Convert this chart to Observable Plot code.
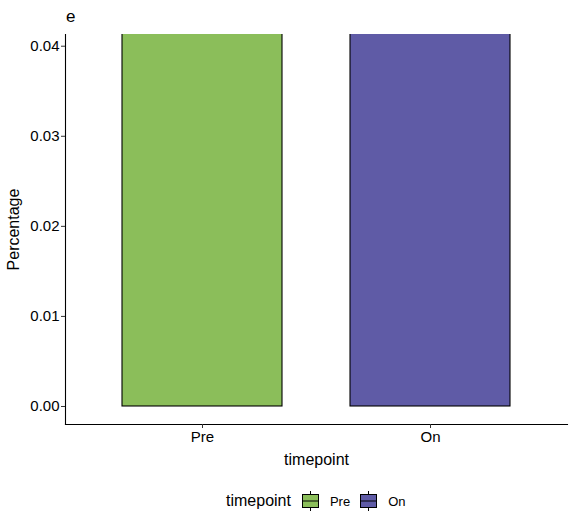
<!DOCTYPE html>
<html>
<head>
<meta charset="utf-8">
<script src="https://cdn.jsdelivr.net/npm/d3@7"></script>
<script src="https://cdn.jsdelivr.net/npm/@observablehq/plot@0.6"></script>
<style>
  body { margin: 0; background: #fff; font-family: "Liberation Sans", Arial, sans-serif; }
  #wrap { position: relative; width: 576px; height: 528px; }
  #title { position: absolute; left: 66px; top: 8px; font-size: 17px; line-height: 1; color: #000; }
  #chart { position: absolute; left: 0; top: 30px; }
  #chart [aria-label="y-axis label"], #chart [aria-label="x-axis label"] { font-size: 16px; }
  #legend { position: absolute; left: 226px; top: 491px; display: flex; align-items: center; color: #000; }
  #legend .ttl { font-size: 16px; margin-right: 11px; }
  #legend .lab { font-size: 13px; margin: 0 10px 0 11px; }
</style>
</head>
<body>
<div id="wrap">
  <div id="title">e</div>
  <div id="chart"></div>
  <div id="legend"></div>
</div>
<script>
const timepoints = ["Pre", "On"];
const percentages = [0.05, 0.05]; // bars run past the top of the panel
const colors = ["#8BBE5A", "#5F5BA6"];
const yTicks = [0, 0.01, 0.02, 0.03, 0.04];

const data = timepoints.map((t, i) => ({timepoint: t, percentage: percentages[i]}));

const chart = Plot.plot({
  width: 576,
  height: 440,
  marginTop: 4,
  marginLeft: 65,
  marginRight: 9,
  marginBottom: 46,
  style: {fontFamily: "'Liberation Sans', Arial, sans-serif", fontSize: "15px", color: "#000", background: "#fff"},
  x: {domain: timepoints, paddingInner: 0.3, paddingOuter: 0.25},
  y: {domain: [-0.002, 0.0413]},
  color: {domain: timepoints, range: colors},
  marks: [
    Plot.barY(data, {x: "timepoint", y: "percentage", fill: "timepoint", stroke: "#000", strokeWidth: 1.1, clip: true}),
    Plot.frame({anchor: "left", stroke: "#000", strokeWidth: 1.1}),
    Plot.frame({anchor: "bottom", stroke: "#000", strokeWidth: 1.1}),
    Plot.axisY({
      ticks: yTicks, tickFormat: d3.format(".2f"), tickSize: 4, tickPadding: 2,
      stroke: "#333", fontSize: 15,
      label: "Percentage", labelAnchor: "center", labelArrow: "none", labelOffset: 58
    }),
    Plot.axisX({
      tickSize: 4, tickPadding: 3, stroke: "#333", fontSize: 15,
      label: "timepoint", labelAnchor: "center", labelArrow: "none", labelOffset: 40
    })
  ]
});
document.getElementById("chart").append(chart);

/* Leyenda abajo, estilo ggplot */
const legend = d3.select("#legend");
legend.append("span").attr("class", "ttl").text("timepoint");
timepoints.forEach((t, i) => {
  const key = legend.append("svg").attr("width", 17).attr("height", 20);
  key.append("line").attr("x1", 8.5).attr("x2", 8.5).attr("y1", 0).attr("y2", 20).attr("stroke", "#000");
  key.append("rect").attr("x", 0.5).attr("y", 3.5).attr("width", 16).attr("height", 13)
    .attr("fill", colors[i]).attr("stroke", "#000");
  key.append("line").attr("x1", 0.5).attr("x2", 16.5).attr("y1", 10).attr("y2", 10).attr("stroke", "#000");
  legend.append("span").attr("class", "lab").text(t);
});
</script>
</body>
</html>
